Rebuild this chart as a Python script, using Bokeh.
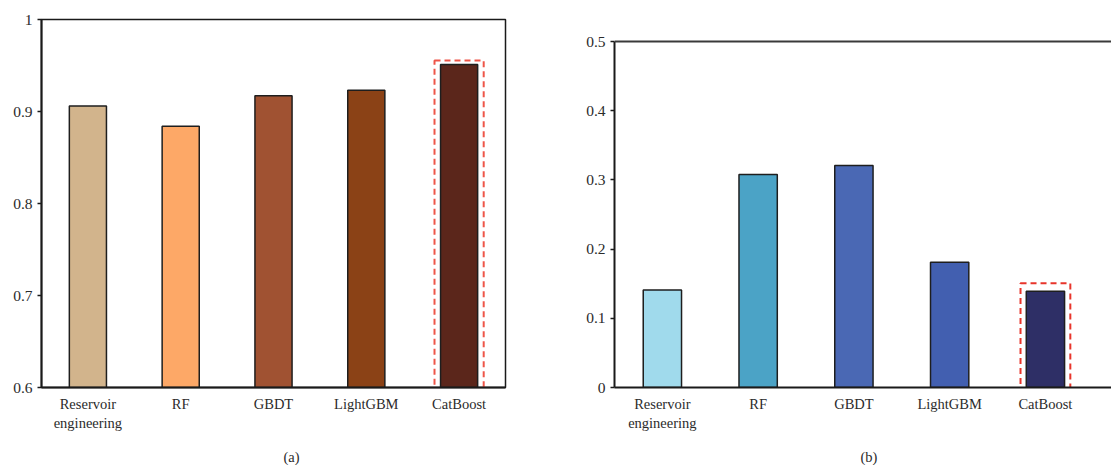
from bokeh.plotting import figure
from bokeh.layouts import row
from bokeh.models import Range1d, FixedTicker, NumeralTickFormatter, Span, Title
from bokeh.embed import file_html
from bokeh.resources import INLINE

# Model names shared by both panels
models = ["Reservoir\nengineering", "RF", "GBDT", "LightGBM", "CatBoost"]

# Panel (a) scores and panel (b) errors
score_a = [0.906, 0.884, 0.917, 0.923, 0.951]
error_b = [0.141, 0.308, 0.321, 0.181, 0.139]

colors_a = ["#D2B48C", "#FDA867", "#A05232", "#8B4216", "#5B261B"]
colors_b = ["#A0DAEC", "#4BA3C6", "#4A68B4", "#425FB0", "#2E2F66"]

yticks_a = [0.6, 0.7, 0.8, 0.9, 1.0]
yticks_b = [0.0, 0.1, 0.2, 0.3, 0.4, 0.5]

best = 4  # index of the highlighted model
FONT = "Liberation Serif"
TXT = "#2b2b2b"

centers = [i + 0.5 for i in range(len(models))]
label_map = {c: m for c, m in zip(centers, models)}


def style(p, yticks):
    p.xaxis.ticker = FixedTicker(ticks=centers)
    p.xaxis.major_label_overrides = label_map
    p.yaxis.ticker = FixedTicker(ticks=yticks)
    p.yaxis.formatter = NumeralTickFormatter(format="0.[0]")
    for ax in (p.xaxis[0], p.yaxis[0]):
        ax.major_label_text_font = FONT
        ax.major_label_text_color = TXT
        ax.axis_line_color = "#1a1a1a"
        ax.axis_line_width = 2
        ax.minor_tick_line_color = None
    p.xaxis.major_label_text_font_size = "14.5px"
    p.yaxis.major_label_text_font_size = "15.5px"
    p.xaxis.major_tick_line_color = None
    p.xaxis.major_tick_in = 0
    p.xaxis.major_tick_out = 0
    p.xaxis.major_label_standoff = 8
    p.yaxis.major_tick_in = 0
    p.yaxis.major_tick_out = 4
    p.yaxis.major_tick_line_color = "#1a1a1a"
    p.yaxis.major_tick_line_width = 1.5
    p.yaxis.major_label_standoff = 5
    p.xgrid.grid_line_color = None
    p.ygrid.grid_line_color = None
    p.background_fill_color = "white"
    p.border_fill_color = "white"


def caption(p, text, offset):
    # leading blank line pushes the caption down under the category labels
    p.add_layout(Title(text="\n" + text, align="left", offset=offset,
                       standoff=0, text_line_height=0.9,
                       text_font=FONT, text_font_size="14.5px",
                       text_font_style="normal", text_color=TXT), "below")


# ---- panel (a)
pa = figure(width=560, height=465, output_backend="svg", toolbar_location=None,
            x_range=Range1d(0, 5), y_range=Range1d(0.6, 1.0),
            min_border_left=41, min_border_right=55, min_border_top=19,
            min_border_bottom=78)
style(pa, yticks_a)
pa.outline_line_color = "#1a1a1a"
pa.outline_line_width = 1.5
pa.vbar(x=centers, top=score_a, bottom=0.6, width=0.4, fill_color=colors_a,
        line_color="#1e1e1e", line_width=1.5)
pa.quad(left=[centers[best] - 0.265], right=[centers[best] + 0.265],
        top=[score_a[best] + 0.0045], bottom=[0.599], fill_color=None,
        line_color="#EE5548", line_width=2, line_dash="6 4")
caption(pa, "(a)", 242)

# ---- panel (b): frame shares the top edge of (a); the axis stops at 0.5
top_b = 0.5 + 22 / 691
pb = figure(width=551, height=465, output_backend="svg", toolbar_location=None,
            x_range=Range1d(0, 5.19), y_range=Range1d(0, top_b),
            min_border_left=54, min_border_right=0, min_border_top=19,
            min_border_bottom=78)
style(pb, yticks_b)
pb.yaxis.bounds = (0, 0.5)
pb.outline_line_color = None
pb.add_layout(Span(location=0.5, dimension="width", line_color="#3a3a3a",
                   line_width=2))
pb.vbar(x=centers, top=error_b, bottom=0, width=0.4, fill_color=colors_b,
        line_color="#1e1e1e", line_width=1.5)
pb.quad(left=[centers[best] - 0.26], right=[centers[best] + 0.26],
        top=[error_b[best] + 0.0115], bottom=[-0.002], fill_color=None,
        line_color="#E8352B", line_width=2, line_dash="6 4")
caption(pb, "(b)", 246)

layout = row(pa, pb, spacing=0)
open("out.html", "w").write(file_html(layout, INLINE))
